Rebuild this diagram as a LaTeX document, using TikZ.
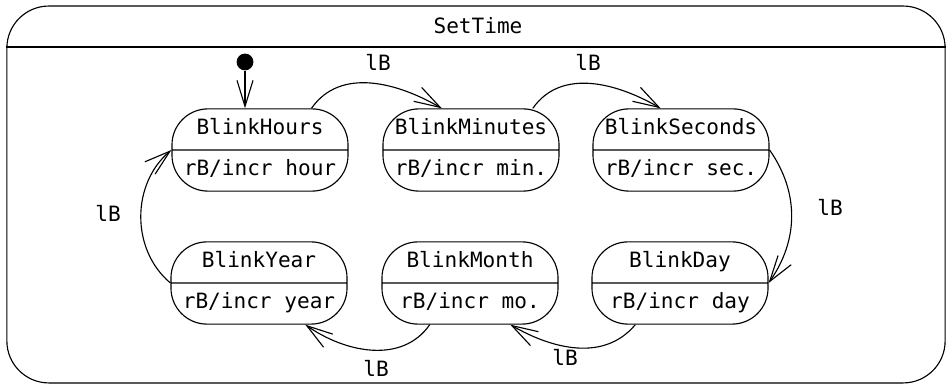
\documentclass[tikz,border=0pt]{standalone}
\usepackage{fontspec}
\setmonofont{DejaVu Sans Mono}
\usetikzlibrary{arrows.meta,positioning,shapes.multipart}
\newcommand{\stl}[1]{\rule[-5pt]{0pt}{16pt}#1}
\tikzset{stpanel/.style={
  font=\ttfamily\fontsize{15}{18}\selectfont,
  line width=0.8pt,
  blink/.style={rectangle split, rectangle split parts=2, draw, rounded corners=0.9cm, minimum width=4.4cm, inner xsep=4pt, inner ysep=6pt},
  trans/.style={-{Straight Barb[length=6.5mm,width=4mm]}},
  ev/.style={inner sep=1pt},
}}

\begin{document}
\begin{tikzpicture}[stpanel, x=0.025cm, y=0.025cm]
\useasboundingbox (0,0) rectangle (951,385);

% composite state
\node[draw, rounded corners=1.05cm, minimum width=23.45cm, minimum height=9.42cm] (settime) at (476,190.5) {};
\node (title) at (478,359) {SetTime};
\coordinate (titlebar) at (476,338);
\draw (settime.west |- titlebar) -- (settime.east |- titlebar);

% states
\node[blink] (hours)   at (260,235) {\stl{BlinkHours}\nodepart{two}\stl{rB/incr hour}};
\node[blink] (minutes) at (471,235) {\stl{BlinkMinutes}\nodepart{two}\stl{rB/incr min.}};
\node[blink] (seconds) at (681,235) {\stl{BlinkSeconds}\nodepart{two}\stl{rB/incr sec.}};
\node[blink] (year)    at (259,102) {\stl{BlinkYear}\nodepart{two}\stl{rB/incr year}};
\node[blink] (month)   at (470,102) {\stl{BlinkMonth}\nodepart{two}\stl{rB/incr mo.}};
\node[blink] (day)     at (680,102) {\stl{BlinkDay}\nodepart{two}\stl{rB/incr day}};

% initial pseudo-state
\node[circle, fill, inner sep=0pt, minimum size=0.42cm] (init) at (245,323) {};
\draw[trans] (init) -- (init |- hours.north);

% transitions
\draw[trans] (hours.39) to[out=55,in=150] (minutes.125);
\draw[trans] (minutes.34) to[out=55,in=150] (seconds.116);
\draw[trans] (seconds.east) to[out=-55,in=55] (day.east);
\draw[trans] (day.223) to[out=-130,in=-30] (month.-46);
\draw[trans] (month.226) to[out=-125,in=-35] (year.-42);
\draw[trans] (year.west) to[out=140,in=-140] (hours.west);

% events
\node[ev] (lbA) at (378,323) {lB};
\node[ev] (lbB) at (588,323) {lB};
\node[ev] (lbC) at (830,178) {lB};
\node[ev] (lbD) at (565,28) {lB};
\node[ev] (lbE) at (376,17) {lB};
\node[ev] (lbF) at (108,172) {lB};

\end{tikzpicture}
\end{document}
